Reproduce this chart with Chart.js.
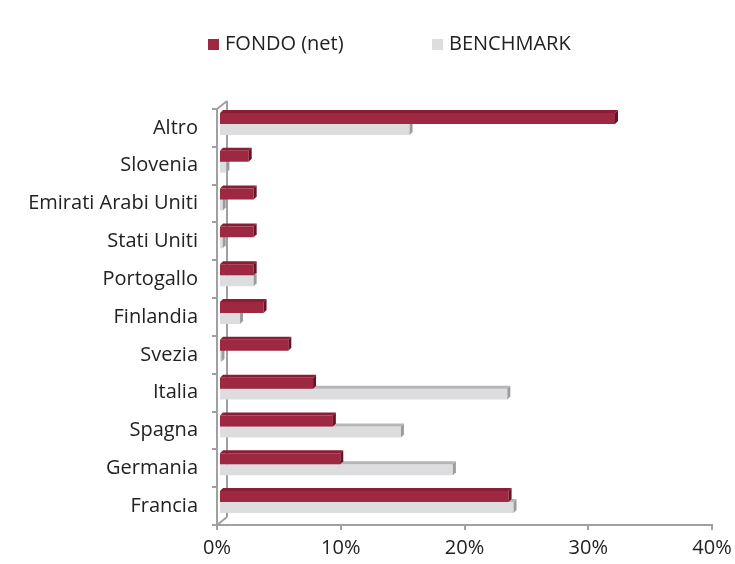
<!DOCTYPE html>
<html>
<head>
<meta charset="utf-8">
<script src="https://cdn.jsdelivr.net/npm/chart.js@4.4.1/dist/chart.umd.min.js"></script>
<style>
    html, body { margin: 0; padding: 0; background: #fff; }
</style>
</head>
<body>
<canvas id="allocazionePaesi" width="735" height="564"></canvas>
<script>
// dati
const paesi = ['Altro', 'Slovenia', 'Emirati Arabi Uniti', 'Stati Uniti', 'Portogallo', 'Finlandia', 'Svezia', 'Italia', 'Spagna', 'Germania', 'Francia']
const fondoNet = [32.0, 2.4, 2.8, 2.8, 2.8, 3.6, 5.6, 7.6, 9.2, 9.8, 23.4]
const benchmark = [15.4, 0.6, 0.3, 0.3, 2.8, 1.7, 0.2, 23.3, 14.7, 18.9, 23.8]
const serie = ['FONDO (net)', 'BENCHMARK']
const assePercento = { min: 0, max: 40, step: 10 }

const FONT = '"Open Sans", Lato, sans-serif'
const coloriFronte = ['#9e2741', '#dddddf']
const coloriLato = ['#6a1226', '#9c9c9c']
const coloriSopra = ['#8a1e36', '#b5b5b5']
const PROF = 3 // profondita' dell'effetto 3D

// pareti 3D + spostamento barre
const effetto3D = {
    id: 'effetto3D',
    beforeDatasetsDraw(chart) {
        const ctx = chart.ctx
        const a = chart.chartArea
        ctx.save()
        ctx.strokeStyle = '#a0a0a0'
        ctx.lineWidth = 2
        ctx.beginPath()
        ctx.moveTo(a.left + 10, a.top - 8)
        ctx.lineTo(a.left + 10, a.bottom - 8)
        ctx.moveTo(a.left, a.top)
        ctx.lineTo(a.left + 10, a.top - 8)
        ctx.moveTo(a.left, a.bottom)
        ctx.lineTo(a.left + 10, a.bottom - 8)
        ctx.stroke()
        ctx.restore()
        ctx.save()
        ctx.translate(2, -4)
    },
    afterDatasetDraw(chart, args) {
        const ctx = chart.ctx
        const i = args.index
        args.meta.data.forEach(function(bar) {
            const top = bar.y - bar.height / 2
            const bottom = bar.y + bar.height / 2
            // faccia superiore
            ctx.fillStyle = coloriSopra[i]
            ctx.beginPath()
            ctx.moveTo(bar.base, top)
            ctx.lineTo(bar.base + PROF, top - PROF)
            ctx.lineTo(bar.x + PROF, top - PROF)
            ctx.lineTo(bar.x, top)
            ctx.closePath()
            ctx.fill()
            // lato destro
            ctx.fillStyle = coloriLato[i]
            ctx.beginPath()
            ctx.moveTo(bar.x, top)
            ctx.lineTo(bar.x + PROF, top - PROF)
            ctx.lineTo(bar.x + PROF, bottom - PROF)
            ctx.lineTo(bar.x, bottom)
            ctx.closePath()
            ctx.fill()
        })
    },
    afterDatasetsDraw(chart) {
        chart.ctx.restore()
    }
}

// legenda disegnata a mano per tenere le posizioni del riferimento
const legendaManuale = {
    id: 'legendaManuale',
    afterDraw(chart) {
        const ctx = chart.ctx
        const xs = [208, 432]
        ctx.save()
        ctx.font = '20px ' + FONT
        ctx.textBaseline = 'middle'
        chart.data.datasets.forEach(function(ds, i) {
            ctx.fillStyle = ds.backgroundColor
            ctx.fillRect(xs[i], 39, 11, 11)
            ctx.fillStyle = '#222'
            ctx.fillText(ds.label, xs[i] + 17, 44)
        })
        ctx.restore()
    }
}

const dataPaesi = {
    labels: paesi,
    datasets: [
        {
            label: serie[0],
            backgroundColor: coloriFronte[0],
            data: fondoNet
        },
        {
            label: serie[1],
            backgroundColor: coloriFronte[1],
            data: benchmark
        }
    ]
}

const configPaesi = {
    type: 'bar',
    data: dataPaesi,
    options: {
        indexAxis: 'y',
        responsive: false,
        animation: false,
        categoryPercentage: 0.58,
        barPercentage: 1,
        layout: { padding: { left: 0, right: 23, top: 109, bottom: 0 } },
        plugins: {
            legend: { display: false },
            tooltip: { enabled: false }
        },
        scales: {
            x: {
                min: assePercento.min,
                max: assePercento.max,
                afterFit: function(scale) {
                    scale.height = 39
                    scale.paddingLeft = 0
                    scale.paddingRight = 0
                },
                border: { color: '#a0a0a0', width: 2 },
                grid: { drawOnChartArea: false, drawTicks: true, tickLength: 5, color: '#a0a0a0', lineWidth: 2 },
                ticks: {
                    stepSize: assePercento.step,
                    padding: 6,
                    color: '#222',
                    font: { family: FONT, size: 20 },
                    callback: function(v) { return v + '%' }
                }
            },
            y: {
                afterFit: function(scale) {
                    scale.width = 217
                    scale.paddingTop = 0
                    scale.paddingBottom = 0
                },
                border: { color: '#a0a0a0', width: 2 },
                grid: { drawOnChartArea: false, drawTicks: true, tickLength: 5, color: '#a0a0a0', lineWidth: 2 },
                ticks: {
                    padding: 14,
                    color: '#222',
                    font: { family: FONT, size: 20 }
                }
            }
        }
    },
    plugins: [effetto3D, legendaManuale]
}

const ctxPaesi = document.getElementById('allocazionePaesi').getContext('2d')
new Chart(ctxPaesi, configPaesi)
</script>
</body>
</html>
